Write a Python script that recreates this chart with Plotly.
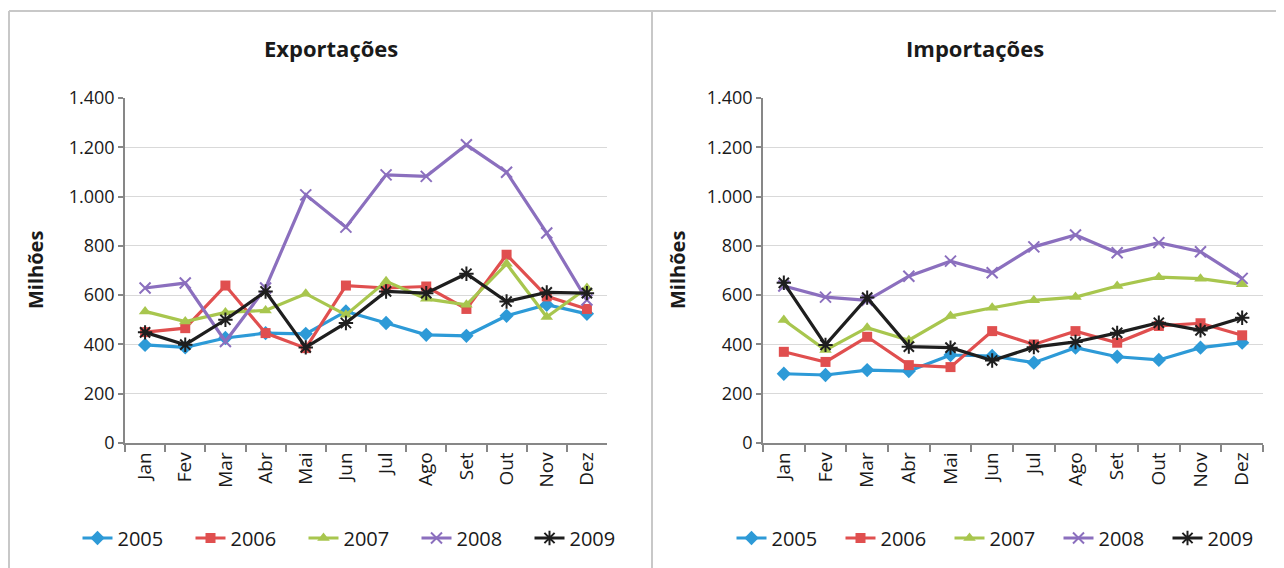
import plotly.graph_objects as go

months = ["Jan", "Fev", "Mar", "Abr", "Mai", "Jun", "Jul", "Ago", "Set", "Out", "Nov", "Dez"]
years = ["2005", "2006", "2007", "2008", "2009"]

exp_2005 = [398, 388, 426, 446, 443, 534, 487, 439, 435, 516, 561, 524]
exp_2006 = [450, 466, 639, 446, 385, 639, 629, 635, 544, 764, 595, 544]
exp_2007 = [534, 493, 530, 538, 606, 520, 656, 585, 561, 727, 511, 629]
exp_2008 = [629, 649, 412, 629, 1007, 876, 1088, 1082, 1210, 1099, 852, 580]
exp_2009 = [449, 399, 500, 615, 388, 487, 615, 608, 687, 574, 611, 608]

imp_2005 = [281, 276, 296, 292, 357, 353, 326, 387, 350, 337, 387, 407]
imp_2006 = [370, 329, 431, 316, 308, 454, 400, 454, 407, 475, 486, 437]
imp_2007 = [499, 377, 468, 417, 515, 549, 579, 592, 637, 673, 667, 644]
imp_2008 = [637, 592, 579, 677, 738, 691, 796, 844, 772, 813, 776, 668]
imp_2009 = [650, 398, 590, 391, 387, 335, 389, 410, 447, 488, 457, 508]

y_tick_vals = [0, 200, 400, 600, 800, 1000, 1200, 1400]
y_tick_text = ["0", "200", "400", "600", "800", "1.000", "1.200", "1.400"]

chart_titles = ["Exportações", "Importações"]
y_title = "Milhões"

colors = ["#2D9AD7", "#E04F4F", "#A8C64E", "#8B6FBE", "#1E1E1E"]
symbols = ["diamond", "square", "triangle-up", "x-thin-open", "asterisk-open"]
sizes = [11, 10, 11, 11, 12]

# the page adds an 8px body margin; the figure is sized to fit the window
OFF = 8
W, H = 1284 - OFF, 568 - OFF
FONT = "Open Sans"

def px_x(p):
    return (p - OFF) / W

def px_y(p):
    return 1 - (p - OFF) / H

fig = go.Figure()

exp_series = [exp_2005, exp_2006, exp_2007, exp_2008, exp_2009]
imp_series = [imp_2005, imp_2006, imp_2007, imp_2008, imp_2009]

for i, (yr, vals) in enumerate(zip(years, exp_series)):
    fig.add_trace(go.Scatter(
        x=months, y=vals, name=yr, mode="lines+markers",
        line=dict(color=colors[i], width=3.2),
        marker=dict(symbol=symbols[i], size=sizes[i], color=colors[i],
                    line=dict(color=colors[i], width=2 if i >= 3 else 0)),
        xaxis="x", yaxis="y", legend="legend",
    ))
for i, (yr, vals) in enumerate(zip(years, imp_series)):
    fig.add_trace(go.Scatter(
        x=months, y=vals, name=yr, mode="lines+markers",
        line=dict(color=colors[i], width=3.2),
        marker=dict(symbol=symbols[i], size=sizes[i], color=colors[i],
                    line=dict(color=colors[i], width=2 if i >= 3 else 0)),
        xaxis="x2", yaxis="y2", legend="legend2",
    ))

ytick_font = dict(family=FONT, size=18, color="#1a1a1a")
xtick_font = dict(family=FONT, size=19, color="#1a1a1a")

xcommon = dict(
    type="category", range=[-0.5, 11.5], tickson="boundaries", ticks="outside",
    ticklen=7, tickcolor="#878787", tickwidth=1.5, showline=True, linecolor="#878787",
    linewidth=1.5, showgrid=False, tickangle=-90, tickfont=xtick_font, fixedrange=True,
)
ycommon = dict(
    range=[0, 1400], tickvals=y_tick_vals, ticktext=y_tick_text, ticks="outside",
    ticklen=5, tickcolor="#878787", tickwidth=1.5, showline=True, linecolor="#878787",
    linewidth=1.5, showgrid=True, gridcolor="#d9d9d9", gridwidth=1, zeroline=False,
    tickfont=ytick_font, fixedrange=True,
)

yd = [px_y(443), px_y(98)]
fig.update_layout(
    width=W, height=H,
    margin=dict(l=0, r=0, t=0, b=0, autoexpand=False),
    paper_bgcolor="white", plot_bgcolor="white",
    font=dict(family=FONT, color="#1a1a1a"),
    xaxis=dict(domain=[px_x(125), px_x(607)], anchor="y", automargin=False, **xcommon),
    yaxis=dict(domain=yd, anchor="x", automargin=False, **ycommon),
    xaxis2=dict(domain=[px_x(763), px_x(1263)], anchor="y2", automargin=False, **xcommon),
    yaxis2=dict(domain=yd, anchor="x2", automargin=False, **ycommon),
    legend=dict(orientation="h", x=px_x(360), xanchor="center", y=px_y(538), yanchor="middle",
                font=dict(family=FONT, size=20, color="#1a1a1a"), entrywidth=68,
                entrywidthmode="pixels", bgcolor="rgba(0,0,0,0)", itemclick=False),
    legend2=dict(orientation="h", x=px_x(1004), xanchor="center", y=px_y(538), yanchor="middle",
                 font=dict(family=FONT, size=20, color="#1a1a1a"), entrywidth=64,
                 entrywidthmode="pixels", bgcolor="rgba(0,0,0,0)", itemclick=False),
    showlegend=True,
)

annotations = [
    dict(text="<b>%s</b>" % chart_titles[0], x=px_x(331), y=px_y(48), xref="paper", yref="paper",
         showarrow=False, font=dict(family=FONT, size=22, color="#1a1a1a"),
         xanchor="center", yanchor="middle"),
    dict(text="<b>%s</b>" % chart_titles[1], x=px_x(975), y=px_y(48), xref="paper", yref="paper",
         showarrow=False, font=dict(family=FONT, size=22, color="#1a1a1a"),
         xanchor="center", yanchor="middle"),
    dict(text="<b>%s</b>" % y_title, x=px_x(35), y=px_y(270), xref="paper", yref="paper",
         showarrow=False, textangle=-90, font=dict(family=FONT, size=20, color="#1a1a1a"),
         xanchor="center", yanchor="middle"),
    dict(text="<b>%s</b>" % y_title, x=px_x(677), y=px_y(270), xref="paper", yref="paper",
         showarrow=False, textangle=-90, font=dict(family=FONT, size=20, color="#1a1a1a"),
         xanchor="center", yanchor="middle"),
]
fig.update_layout(annotations=annotations)

frame = dict(color="#c8c8c8", width=2)
fig.update_layout(shapes=[
    dict(type="line", xref="paper", yref="paper", x0=px_x(9), x1=1, y0=px_y(11), y1=px_y(11), line=frame),
    dict(type="line", xref="paper", yref="paper", x0=px_x(9), x1=px_x(9), y0=0, y1=px_y(11), line=frame),
    dict(type="line", xref="paper", yref="paper", x0=px_x(652), x1=px_x(652), y0=0, y1=px_y(11), line=frame),
])

fig.write_html("out.html")
